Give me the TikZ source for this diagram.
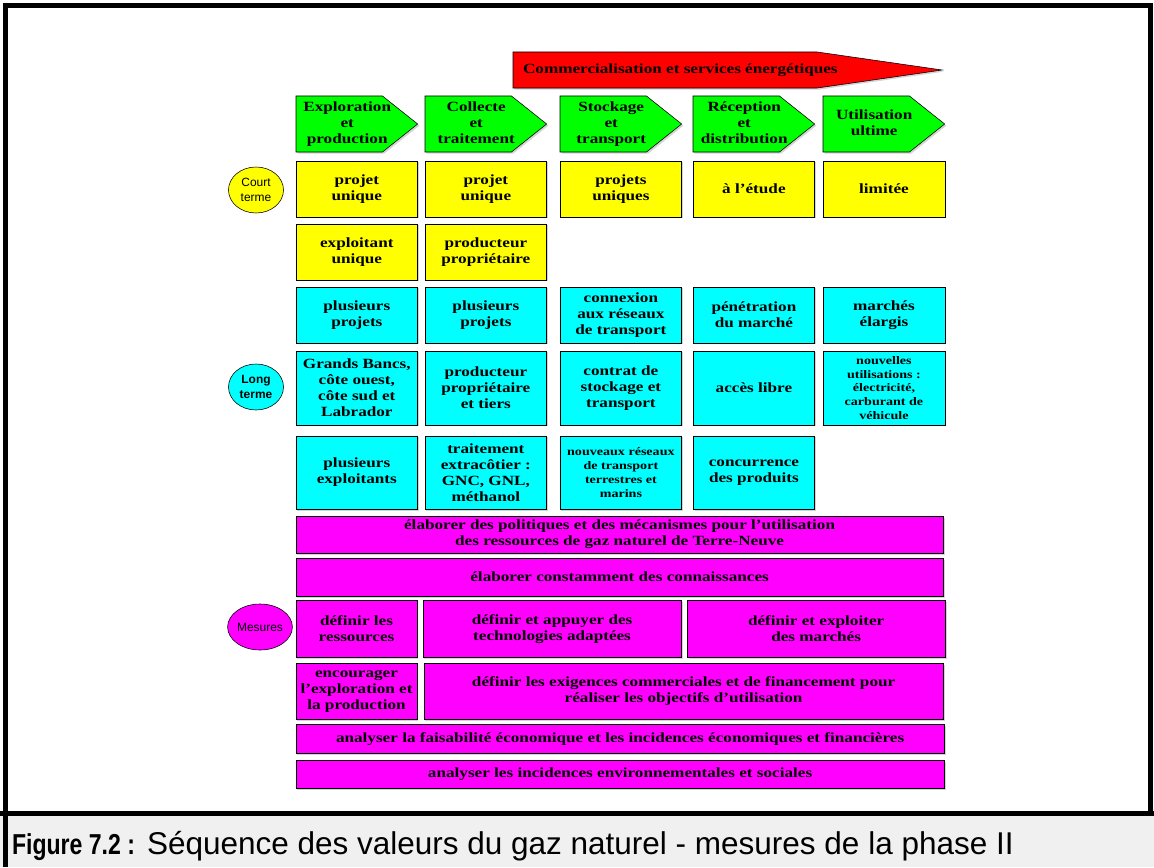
\documentclass[tikz,border=0pt]{standalone}
\usepackage{fontspec}
\usepackage{tikz}
\usetikzlibrary{positioning,shapes,shapes.symbols,shapes.geometric,shadows}
\newfontfamily\boxfont[FakeStretch=1.22]{Liberation Serif}
\newfontfamily\capfont{Liberation Sans}
\newfontfamily\capnarrow[FakeStretch=0.8]{Liberation Sans}
\definecolor{capgray}{RGB}{240,240,240}
\definecolor{pyellow}{RGB}{255,255,0}
\definecolor{pcyan}{RGB}{0,255,255}
\definecolor{pmagenta}{RGB}{255,0,255}
\definecolor{pgreen}{RGB}{0,255,0}
\definecolor{pred}{RGB}{255,0,0}
% stage label: body-wide box, text pushed a little into the point
\newcommand{\stagelbl}[1]{\makebox[2.15cm]{\hspace{0.4cm}\begin{tabular}{@{}c@{}}#1\end{tabular}}}
\tikzstyle{market}=[%
      signal, signal to=east, signal pointer angle=16.4, draw=black, fill=pred,
      drop shadow={shadow xshift=1.2pt, shadow yshift=-1.2pt, opacity=.35},
      minimum height=0.9cm, minimum width=10.725cm, inner xsep=0.25cm,
      font=\boxfont\bfseries\fontsize{10}{11.4}\selectfont
]
\tikzstyle{stage}=[%
      signal, signal to=east, signal pointer angle=77, draw=black, fill=pgreen,
      drop shadow={shadow xshift=1.2pt, shadow yshift=-1.2pt, opacity=.35},
      minimum height=1.4cm, minimum width=3.04cm,
      font=\boxfont\bfseries\fontsize{10}{11.4}\selectfont
]
\tikzstyle{cell}=[%
      rectangle, draw=black, drop shadow={shadow xshift=1pt, shadow yshift=-1pt, opacity=.35},
      minimum height=1.4cm, minimum width=3.04cm,
      align=center, font=\boxfont\bfseries\fontsize{10}{11.4}\selectfont
]
\tikzstyle{short}=[cell, fill=pyellow]
\tikzstyle{long}=[cell, fill=pcyan]
\tikzstyle{act}=[cell, fill=pmagenta]
\tikzstyle{small}=[font=\boxfont\bfseries\fontsize{8.2}{9.9}\selectfont]
\tikzstyle{term}=[%
      ellipse, draw=black, minimum width=1.375cm, minimum height=1.15cm,
      align=center, font=\capfont\fontsize{8.5}{10.5}\selectfont
]

\begin{document}
\begin{tikzpicture}[x=0.025cm, y=-0.025cm, inner sep=0pt, outer sep=0pt]
    \useasboundingbox (0,0) rectangle (1154,867);

    % frame and caption strip
    \fill[capgray] (0,815) rectangle (1154,867);
    \draw[line width=0.125cm] (5.5,867) -- (5.5,6) -- (1150.5,6) -- (1150.5,813);
    \draw[line width=0.125cm] (0,813) -- (1154,813);

    \node[market, anchor=west] (com) at (513,70)
        {\makebox[7.1cm][l]{Commercialisation et services énergétiques}};

    \node[stage, anchor=west] (c1) at (296,124) {\stagelbl{Exploration\\et\\production}};
    \node[stage, anchor=west] (c2) at (425,124) {\stagelbl{Collecte\\et\\traitement}};
    \node[stage, anchor=west] (c3) at (560,124) {\stagelbl{Stockage\\et\\transport}};
    \node[stage, anchor=west] (c4) at (693,124) {\stagelbl{Réception\\et\\distribution}};
    \node[stage, anchor=west] (c5) at (823,124) {\stagelbl{Utilisation\\ultime}};

    \node[term, fill=pyellow] (ct) at (256,190) {Court\\terme};
    \node[term, fill=pcyan, font=\capfont\bfseries\fontsize{8.5}{10.5}\selectfont] (lt) at (256,387) {Long\\terme};
    \node[term, fill=pmagenta, minimum width=1.575cm] (ms) at (260,627) {Mesures};

    % court terme
    \node[short, anchor=north west] (s1) at (296,161) {projet\\unique};
    \node[short] (s2) [right=0.185cm of s1] {projet\\unique};
    \node[short] (s3) [right=0.335cm of s2] {projets\\uniques};
    \node[short] (s4) [right=0.285cm of s3] {à l’étude};
    \node[short] (s5) [right=0.21cm of s4] {limitée};
    \node[short] (e1) [below=0.175cm of s1] {exploitant\\unique};
    \node[short] (e2) [below=0.175cm of s2] {producteur\\propriétaire};

    % long terme
    \node[long] (p1) [below=0.175cm of e1] {plusieurs\\projets};
    \node[long] (p2) [below=0.175cm of e2] {plusieurs\\projets};
    \node[long] (p3) [below=1.75cm of s3] {connexion\\aux réseaux\\de transport};
    \node[long] (p4) [below=1.75cm of s4] {pénétration\\du marché};
    \node[long] (p5) [below=1.75cm of s5] {marchés\\élargis};

    \node[long, minimum height=1.85cm] (g1) [below=0.2cm of p1] {Grands Bancs,\\côte ouest,\\côte sud et\\Labrador};
    \node[long, minimum height=1.85cm] (g2) [below=0.2cm of p2] {producteur\\propriétaire\\et tiers};
    \node[long, minimum height=1.85cm] (g3) [below=0.2cm of p3] {contrat de\\stockage et\\transport};
    \node[long, minimum height=1.85cm] (g4) [below=0.2cm of p4] {accès libre};
    \node[long, small, minimum height=1.85cm] (g5) [below=0.2cm of p5] {nouvelles\\utilisations :\\électricité,\\carburant de\\véhicule};

    \node[long, minimum height=1.825cm] (n1) [below=0.275cm of g1] {plusieurs\\exploitants};
    \node[long, minimum height=1.825cm] (n2) [below=0.275cm of g2] {traitement\\extracôtier :\\GNC, GNL,\\méthanol};
    \node[long, small, minimum height=1.825cm] (n3) [below=0.275cm of g3] {nouveaux réseaux\\de transport\\terrestres et\\marins};
    \node[long, minimum height=1.825cm] (n4) [below=0.275cm of g4] {concurrence\\des produits};

    % mesures
    \node[act, minimum width=16.175cm, minimum height=0.925cm, below=0.175cm of n1.south west, anchor=north west] (m1)
        {élaborer des politiques et des mécanismes pour l’utilisation\\des ressources de gaz naturel de Terre-Neuve};
    \node[act, minimum width=16.175cm, minimum height=0.95cm, below=0.125cm of m1.south west, anchor=north west] (m2)
        {élaborer constamment des connaissances};
    \node[act, minimum width=3.025cm, minimum height=1.425cm, below=0.1cm of m2.south west, anchor=north west] (m3a)
        {définir les\\ressources};
    \node[act, minimum width=6.45cm, minimum height=1.425cm] (m3b) [right=0.15cm of m3a] {définir et appuyer des\\technologies adaptées};
    \node[act, minimum width=6.45cm, minimum height=1.425cm] (m3c) [right=0.15cm of m3b] {définir et exploiter\\des marchés};
    \node[act, minimum width=3.025cm, minimum height=1.4cm, below=0.15cm of m3a.south west, anchor=north west] (m4a)
        {encourager\\l’exploration et\\la production};
    \node[act, minimum width=12.975cm, minimum height=1.4cm] (m4b) [right=0.175cm of m4a]
        {définir les exigences commerciales et de financement pour\\réaliser les objectifs d’utilisation};
    \node[act, minimum width=16.2cm, minimum height=0.725cm, below=0.125cm of m4a.south west, anchor=north west] (m5)
        {analyser la faisabilité économique et les incidences économiques et financières};
    \node[act, minimum width=16.2cm, minimum height=0.7cm, below=0.175cm of m5.south west, anchor=north west] (m6)
        {analyser les incidences environnementales et sociales};

    % caption
    \node[anchor=base west, font=\capnarrow\bfseries\fontsize{20.5}{24}\selectfont] (fig) at (12,854) {Figure 7.2 :};
    \node[anchor=base west, font=\capfont\fontsize{22.4}{26}\selectfont] (title) at (147,854)
        {Séquence des valeurs du gaz naturel - mesures de la phase II};

\end{tikzpicture}
\end{document}
